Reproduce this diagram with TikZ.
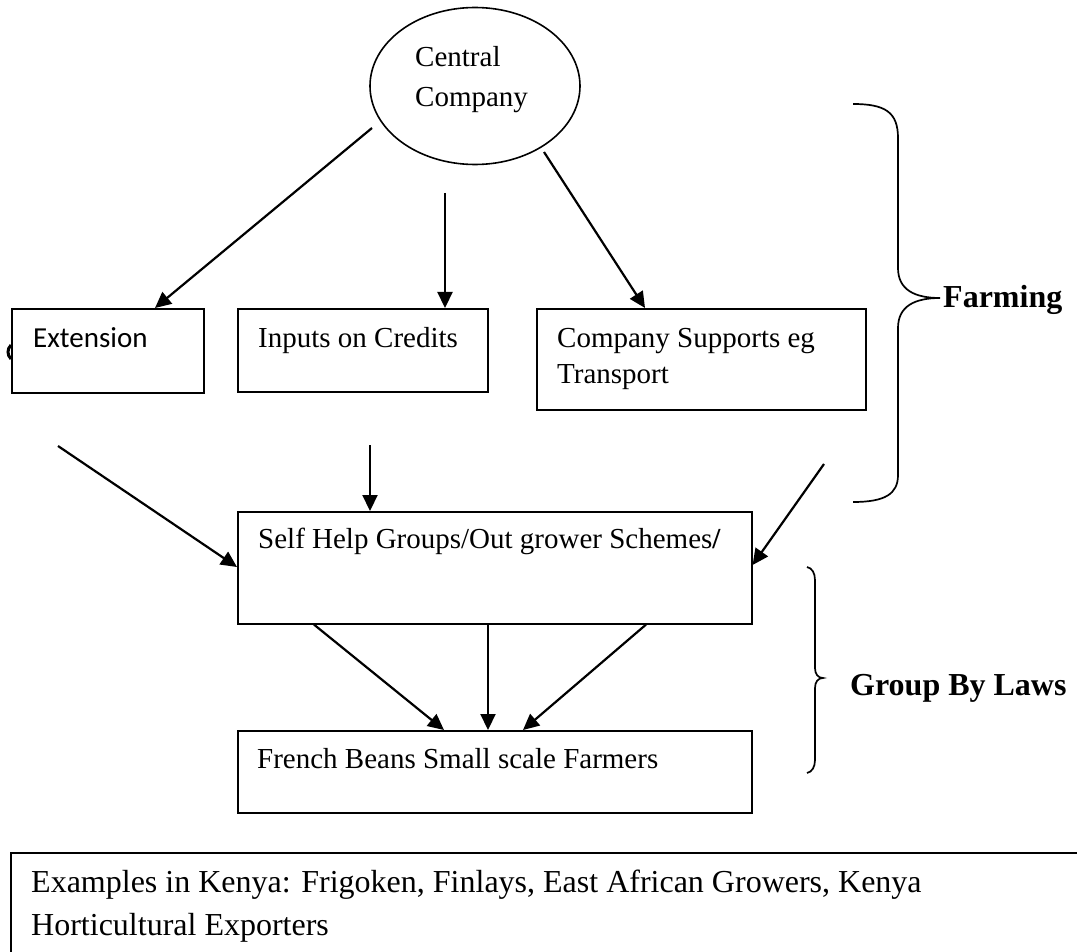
\documentclass[tikz,border=0pt]{standalone}
\usepackage{fontspec}
\setmainfont{Liberation Serif}
\newfontfamily\calibri{Carlito}
\usetikzlibrary{shapes.geometric,arrows.meta,calc}
\tikzset{
  boxnode/.style={draw, line width=1.6pt, inner sep=0pt, anchor=north west},
  txt/.style={anchor=base west, inner sep=0pt, font=\fontsize{29}{35}\selectfont},
  bigtxt/.style={anchor=base west, inner sep=0pt, font=\fontsize{32}{43}\selectfont},
  boldtxt/.style={anchor=base west, inner sep=0pt, font=\fontsize{32}{38}\selectfont\bfseries},
  arr/.style={line width=2.2pt, -{Triangle[length=16pt,width=15pt]}},
  bracestyle/.style={line width=1.7pt}
}
\begin{document}
\begin{tikzpicture}[x=1pt,y=-1pt]
\useasboundingbox[fill=white] (0,0) rectangle (1077,952);
% ellipse
\node[draw, ellipse, line width=1.6pt, minimum width=210pt, minimum height=157pt, inner sep=0pt] (cc) at (475,86) {};
\node[txt] (cct1) at (415,67) {Central};
\node[txt] (cct2) at (415,107) {Company};
% boxes
\node[boxnode, minimum width=192pt, minimum height=84pt] (ext) at (11,308) {};
\node[anchor=base west, inner sep=0pt, font=\calibri\fontsize{29}{35}\selectfont] (extt) at (33,347) {Extension};
\node[boxnode, minimum width=250pt, minimum height=83pt] (inp) at (237,308) {};
\node[txt] (inpt) at (258,347) {Inputs on Credits};
\node[boxnode, minimum width=329pt, minimum height=101pt] (sup) at (536,308) {};
\node[txt] (supt1) at (557,347) {Company Supports eg};
\node[txt] (supt2) at (557,383) {Transport};
\node[boxnode, minimum width=514pt, minimum height=112pt] (shg) at (237,511) {};
\node[txt] (shgt) at (258,548) {Self Help Groups/Out grower Schemes\textbf{/}};
\node[boxnode, minimum width=514pt, minimum height=82pt] (fb) at (237,730) {};
\node[txt] (fbt) at (257,768) {French Beans Small scale Farmers};
\node[boxnode, minimum width=1200pt, minimum height=200pt] (ex) at (10,852) {};
\node[bigtxt] (ext1) at (31,892) {Examples in Kenya: Frigoken, Finlays, East African Growers, Kenya};
\node[bigtxt] (ext2) at (31,935) {Horticultural Exporters};
% stray mark
\draw[line width=3pt] (11,345) .. controls (7,349) and (7,355) .. (11,359);
% free ends
\coordinate (s1) at (372,128);
\coordinate (s2) at (445,193);
\coordinate (s3) at (544,152);
\coordinate (s4) at (58,446);
\coordinate (s5) at (370,445);
\coordinate (s6) at (824,464);
% arrows
\draw[arr] (s1) -- ($(ext.north west)+(144,0)$);
\draw[arr] (s2) -- ($(inp.north west)+(208,0)$);
\draw[arr] (s3) -- ($(sup.north west)+(109,0)$);
\draw[arr] (s4) -- ($(shg.north west)+(0,56)$);
\draw[arr] (s5) -- ($(shg.north west)+(133,0)$);
\draw[arr] (s6) -- ($(shg.north east)+(0,54)$);
\draw[arr] ($(shg.south west)+(77,0)$) -- ($(fb.north west)+(207,0)$);
\draw[arr] ($(shg.south west)+(251,0)$) -- ($(fb.north west)+(251,0)$);
\draw[arr] ($(shg.south west)+(409,0)$) -- ($(fb.north west)+(286,0)$);
% braces
\draw[bracestyle] (853,104) .. controls (885,104) and (898,112) .. (898,138) -- (898,268)
  .. controls (898,290) and (915,298) .. (940,298)
  .. controls (915,298) and (898,306) .. (898,328) -- (898,475)
  .. controls (898,494) and (885,502) .. (853,502);
\node[boldtxt] (farm) at (943,308) {Farming};
\draw[bracestyle] (807,567) .. controls (812,568) and (815,573) .. (815,580) -- (815,668)
  .. controls (815,674) and (818,678) .. (823,678)
  .. controls (818,678) and (815,682) .. (815,688) -- (815,760)
  .. controls (815,767) and (812,772) .. (807,773);
\node[boldtxt] (gbl) at (850,695) {Group By Laws};
\end{tikzpicture}
\end{document}
